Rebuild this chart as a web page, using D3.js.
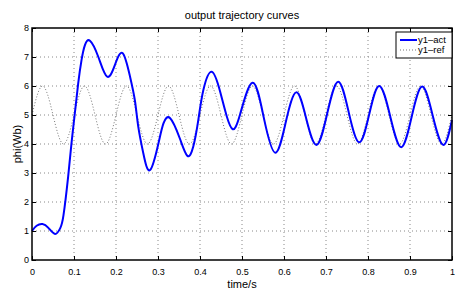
<!DOCTYPE html>
<html><head><meta charset="utf-8">
<script src="https://cdn.jsdelivr.net/npm/d3@7"></script>
<style>body{margin:0;background:#fff}svg{display:block}text{font-family:"Liberation Sans",Arial,sans-serif}</style>
</head><body>
<svg id="c" width="455" height="291"></svg>
<script>
const title = "output trajectory curves";
const xLabel = "time/s";
const yLabel = "phi(Wb)";
const xTicks = [0,0.1,0.2,0.3,0.4,0.5,0.6,0.7,0.8,0.9,1];
const yTicks = [0,1,2,3,4,5,6,7,8];
const seriesNames = ["y1\u2013act","y1\u2013ref"];

const actT = [0,0.011,0.025,0.039,0.055,0.067,0.075,0.086,0.094,0.102,0.110,0.118,0.126,0.138,0.158,0.179,0.198,0.216,0.233,0.245,0.253,0.265,0.281,0.301,0.313,0.329,0.352,0.370,0.384,0.396,0.408,0.428,0.448,0.464,0.478,0.495,0.525,0.552,0.579,0.604,0.629,0.653,0.678,0.703,0.729,0.754,0.779,0.803,0.827,0.853,0.879,0.904,0.929,0.954,0.979,1.0];
const actV = [1.0,1.18,1.24,1.11,0.9,1.09,1.55,2.87,4.02,5.06,6.09,6.9,7.41,7.56,7.0,6.32,6.75,7.13,6.35,5.5,4.6,3.68,3.10,4.02,4.71,4.89,4.19,3.59,3.91,4.83,5.86,6.49,5.8,4.94,4.51,5.0,6.11,4.9,3.70,4.74,5.78,4.87,3.97,5.06,6.15,5.1,4.06,5.03,6.0,4.95,3.89,4.94,5.98,4.98,3.97,4.83];

const refT = [0,0.025,0.05,0.075,0.1,0.125,0.15,0.175,0.2,0.225,0.25,0.275,0.3,0.325,0.35,0.375,0.4,0.425,0.45,0.475,0.5,0.525,0.55,0.575,0.6,0.625,0.65,0.675,0.7,0.725,0.75,0.775,0.8,0.825,0.85,0.875,0.9,0.925,0.95,0.975,1.0];
const refV = [5,6,5,4,5,6,5,4,5,6,5,4,5,6,5,4,5,6,5,4,5,6,5,4,5,6,5,4,5,6,5,4,5,6,5,4,5,6,5,4,5];

const svg = d3.select("#c");
const L = 32, R = 452, T = 28, B = 260;
const x = d3.scaleLinear().domain([0,1]).range([L,R]);
const y = d3.scaleLinear().domain([0,8]).range([B,T]);

// grid
const g = svg.append("g");
g.selectAll("line.gx").data(xTicks.slice(1,-1)).join("line")
  .attr("x1",d=>x(d)).attr("x2",d=>x(d)).attr("y1",T).attr("y2",B)
  .attr("stroke","#888").attr("stroke-width",1).attr("stroke-dasharray","1,3");
g.selectAll("line.gy").data(yTicks.slice(1,-1)).join("line")
  .attr("x1",L).attr("x2",R).attr("y1",d=>y(d)).attr("y2",d=>y(d))
  .attr("stroke","#888").attr("stroke-width",1).attr("stroke-dasharray","1,3");

// ref line
const refData = refT.map((t,i)=>[t,refV[i]]);
svg.append("path").datum(refData)
  .attr("d", d3.line().x(d=>x(d[0])).y(d=>y(d[1])).curve(d3.curveNatural))
  .attr("fill","none").attr("stroke","#777").attr("stroke-width",1).attr("stroke-dasharray","1,2");

// act line
const actData = actT.map((t,i)=>[t,actV[i]]);
svg.append("path").datum(actData)
  .attr("d", d3.line().x(d=>x(d[0])).y(d=>y(d[1])).curve(d3.curveNatural))
  .attr("fill","none").attr("stroke","#0000ff").attr("stroke-width",2);

// axes
const xb = d3.axisBottom(x).tickValues(xTicks).tickFormat(d3.format("")).tickSizeInner(-4).tickSizeOuter(0).tickPadding(9);
const xt = d3.axisTop(x).tickValues(xTicks).tickFormat("").tickSizeInner(-4).tickSizeOuter(0);
const yl = d3.axisLeft(y).tickValues(yTicks).tickFormat(d3.format("d")).tickSizeInner(-4).tickSizeOuter(0).tickPadding(3);
const yr = d3.axisRight(y).tickValues(yTicks).tickFormat("").tickSizeInner(-4).tickSizeOuter(0);
function style(sel){sel.select(".domain").remove();sel.selectAll("line").attr("stroke","#000");sel.selectAll("text").attr("font-size",9).attr("fill","#000");}
svg.append("g").attr("transform",`translate(0,${B})`).call(xb).call(style);
svg.append("g").attr("transform",`translate(0,${T})`).call(xt).call(style);
svg.append("g").attr("transform",`translate(${L},0)`).call(yl).call(style);
svg.append("g").attr("transform",`translate(${R},0)`).call(yr).call(style);
svg.append("rect").attr("x",L).attr("y",T).attr("width",R-L).attr("height",B-T)
  .attr("fill","none").attr("stroke","#000").attr("stroke-width",1.5);

// labels
svg.append("text").attr("x",(L+R)/2).attr("y",19).attr("text-anchor","middle").attr("font-size",11).text(title);
svg.append("text").attr("x",(L+R)/2).attr("y",288).attr("text-anchor","middle").attr("font-size",11).text(xLabel);
svg.append("text").attr("transform",`translate(21,${(T+B)/2}) rotate(-90)`).attr("text-anchor","middle").attr("font-size",11).text(yLabel);

// legend
const lg = svg.append("g");
lg.append("rect").attr("x",396).attr("y",32).attr("width",56).attr("height",26)
  .attr("fill","#fff").attr("stroke","#000").attr("stroke-width",1);
lg.append("line").attr("x1",400).attr("x2",417).attr("y1",40).attr("y2",40).attr("stroke","#0000ff").attr("stroke-width",2);
lg.append("line").attr("x1",400).attr("x2",417).attr("y1",50).attr("y2",50).attr("stroke","#777").attr("stroke-width",1).attr("stroke-dasharray","1,2");
lg.selectAll("text").data(seriesNames).join("text")
  .attr("x",418).attr("y",(d,i)=>40+i*10).attr("dy","0.35em").attr("font-size",9.5).text(d=>d);
</script>
</body></html>
